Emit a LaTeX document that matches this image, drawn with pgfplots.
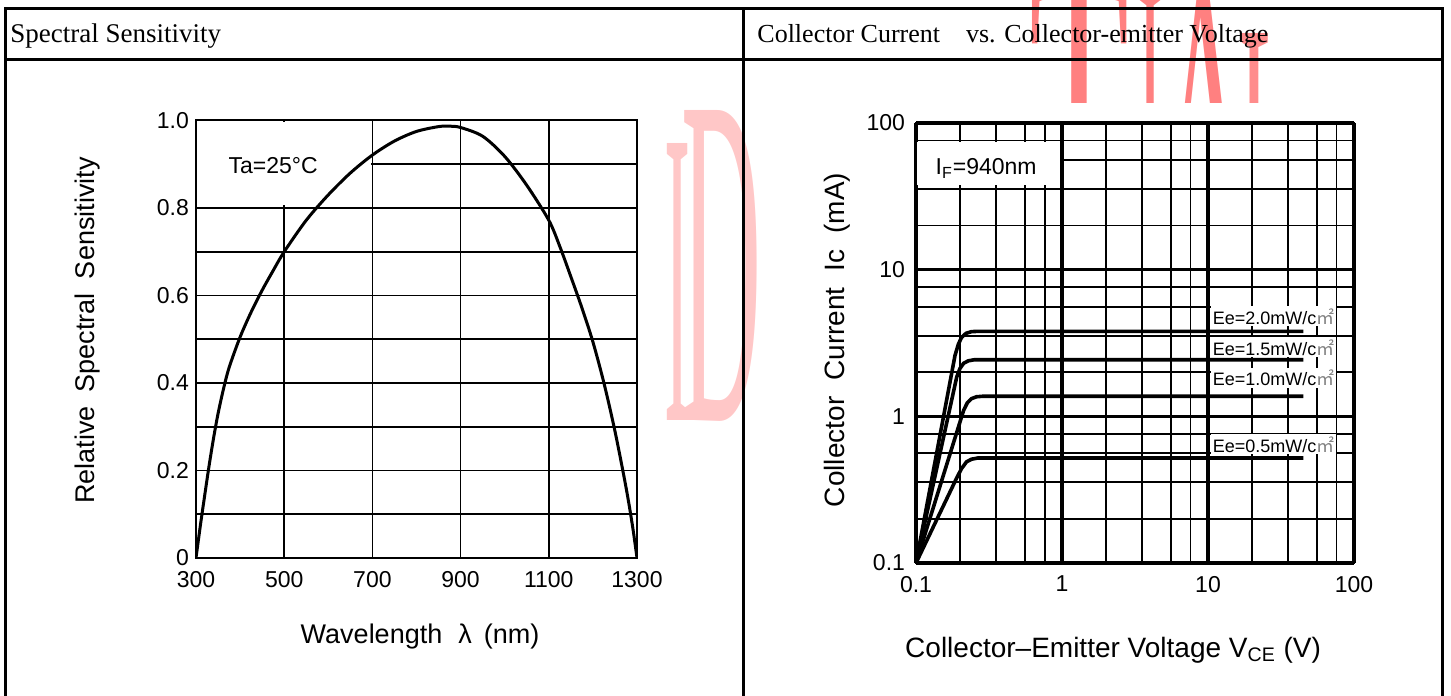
\documentclass[border=0pt]{standalone}
\usepackage{fontspec}
\setmainfont{Liberation Sans}
\newfontfamily\hdr{Liberation Serif}
\newfontfamily\cjk{Noto Sans CJK SC}
\usepackage{graphicx}
\usepackage{pgfplots}
\pgfplotsset{compat=1.18}

% spectral sensitivity curve (wavelength nm, relative)
\pgfplotstableread{
x     y
300   0
310   0.075
320   0.145
330   0.213
340   0.275
350   0.33
362   0.385
375   0.435
400   0.505
425   0.562
450   0.612
475   0.657
500   0.700
550   0.772
600   0.830
650   0.880
700   0.921
750   0.953
800   0.975
850   0.986
875   0.987
900   0.984
950   0.964
1000  0.918
1050  0.852
1100  0.772
1125  0.712
1150  0.643
1175  0.572
1200  0.494
1225  0.400
1250  0.290
1275  0.162
1290  0.072
1300  0
}\spectral

\newcommand{\eelabel}[1]{Ee=#1mW/c{\cjk\color{gray}㎡}}
% watermark letter: x centre, top, width, height (px), letter, colour
\newcommand{\wm}[6]{\node[anchor=north,inner sep=0pt,text=#6] at (#1,#2)
  {\resizebox{#3\dimexpr0.5pt\relax}{#4\dimexpr0.5pt\relax}{\hdr #5}};}

\begin{document}
\begin{tikzpicture}[x=0.5pt,y=0.5pt]
\useasboundingbox (0,0) rectangle (1451,696);
% watermark, partly hidden by the pasted charts
\wm{677}{553}{26}{277}{I}{red!22}
\wm{722}{586}{80}{310}{D}{red!22}
\wm{1080}{716}{100}{270}{T}{red!50}
\wm{1150}{706}{26}{260}{I}{red!50}
\wm{1205}{706}{88}{260}{A}{red!50}
\wm{1268}{663}{57}{240}{L}{red!45}
\fill[white] (8,0) rectangle (655,634);
\fill[white] (817,0) rectangle (1440,593);
% table frame
\draw[line width=1.5pt] (5.5,-4) -- (5.5,687) -- (1442,687) -- (1442,-4);
\draw[line width=1.5pt] (5.5,636) -- (1442,636);
\draw[line width=1.5pt] (743,687) -- (743,-4);
\node[anchor=base west,inner sep=0pt,font=\hdr\fontsize{13.5}{15}\selectfont] at (10,653) {Spectral Sensitivity};
\node[anchor=base west,inner sep=0pt,font=\hdr\fontsize{13}{15}\selectfont] at (757,653) {Collector Current\hspace{13pt}vs. Collector-emitter Voltage};

% left: spectral sensitivity
\begin{axis}[
  at={(98pt,69pt)}, anchor=south west, scale only axis,
  width=220.5pt, height=218.75pt,
  xmin=300, xmax=1300, ymin=0, ymax=1,
  xtick={300,500,...,1300},
  xticklabels={300,500,700,900,1100,1300},
  ytick={0,0.2,0.4,0.6,0.8,1.0},
  yticklabels={0,0.2,0.4,0.6,0.8,1.0},
  minor ytick={0.1,0.3,0.5,0.7,0.9},
  grid=both,
  major grid style={black,line width=0.8pt},
  minor grid style={black,line width=0.8pt},
  axis line style={line width=1pt},
  major tick length=0pt, minor tick length=0pt,
  ticklabel style={font=\fontsize{11.5}{12}\selectfont},
  /pgf/number format/assume math mode=true,
  xticklabel shift=3pt,
  xlabel={Wavelength\hspace{8pt}λ\hspace{6pt}(nm)},
  ylabel={Relative\hspace{7pt}Spectral\hspace{7pt}Sensitivity},
  label style={font=\fontsize{13.5}{14}\selectfont},
  xlabel style={at={(axis description cs:0.508,-0.18)},anchor=center},
  ylabel style={at={(axis description cs:-0.245,0.52)},anchor=center},
]
\fill[white] (axis cs:302,0.806) rectangle (axis cs:697,0.997);
\addplot[black,line width=1.5pt,smooth] table[x=x,y=y] {\spectral};
\node[anchor=west,font=\fontsize{11.5}{12}\selectfont] at (axis cs:358,0.897) {Ta=25\textdegree C};
\end{axis}

% right: collector current vs collector-emitter voltage
\begin{axis}[
  at={(458pt,66.5pt)}, anchor=south west, scale only axis,
  width=219pt, height=220pt,
  xmode=log, ymode=log,
  xmin=0.1, xmax=100, ymin=0.1, ymax=100,
  xtick={0.1,1,10,100}, xticklabels={0.1,1,10,100},
  ytick={0.1,1,10,100}, yticklabels={0.1,1,10,100},
  minor xtick={0.2,0.355,0.56,0.76,2,3.55,5.6,7.6,20,35.5,56,76},
  minor ytick={0.2,0.355,0.56,0.76,2,3.55,5.6,7.6,20,35.5,56,76},
  grid=both,
  major grid style={black,line width=1.8pt},
  minor grid style={black,line width=0.9pt},
  axis line style={line width=1.2pt},
  major tick length=0pt, minor tick length=0pt,
  ticklabel style={font=\fontsize{11.5}{12}\selectfont},
  /pgf/number format/assume math mode=true,
  xticklabel shift=3pt, yticklabel shift=2pt,
  xlabel={Collector--Emitter Voltage V\textsubscript{CE} (V)},
  ylabel={Collector\hspace{8pt}Current\hspace{8pt}Ic\hspace{8pt}(mA)},
  label style={font=\fontsize{14}{15}\selectfont},
  xlabel style={at={(axis description cs:0.45,-0.198)},anchor=center},
  ylabel style={at={(axis description cs:-0.18,0.507)},anchor=center},
]
\fill[white] (axis cs:0.102,37.5) rectangle (axis cs:0.97,74);
\node[anchor=west,font=\fontsize{11.5}{12}\selectfont] at (axis cs:0.122,49) {I\textsubscript{F}=940nm};
\addplot[black,line width=1.8pt] coordinates {
  (0.1,0.1) (0.185,2.6) (0.195,3.1) (0.205,3.45) (0.22,3.68) (0.24,3.78) (0.27,3.8) (45,3.8)};
\addplot[black,line width=1.8pt] coordinates {
  (0.1,0.1) (0.19,1.85) (0.2,2.12) (0.212,2.3) (0.228,2.39) (0.25,2.43) (45,2.43)};
\addplot[black,line width=1.8pt] coordinates {
  (0.1,0.1) (0.212,1.1) (0.225,1.24) (0.24,1.32) (0.26,1.36) (0.285,1.37) (45,1.37)};
\addplot[black,line width=1.8pt] coordinates {
  (0.1,0.1) (0.19,0.38) (0.205,0.44) (0.222,0.49) (0.24,0.51) (0.265,0.52) (45,0.52)};
\node[anchor=west,fill=white,inner sep=1pt,font=\fontsize{9}{9}\selectfont] at (axis cs:10.4,4.8) {\eelabel{2.0}};
\node[anchor=west,fill=white,inner sep=1pt,font=\fontsize{9}{9}\selectfont] at (axis cs:10.4,2.95) {\eelabel{1.5}};
\node[anchor=west,fill=white,inner sep=1pt,font=\fontsize{9}{9}\selectfont] at (axis cs:10.4,1.82) {\eelabel{1.0}};
\node[anchor=west,fill=white,inner sep=1pt,font=\fontsize{9}{9}\selectfont] at (axis cs:10.4,0.645) {\eelabel{0.5}};
\end{axis}
\end{tikzpicture}
\end{document}
